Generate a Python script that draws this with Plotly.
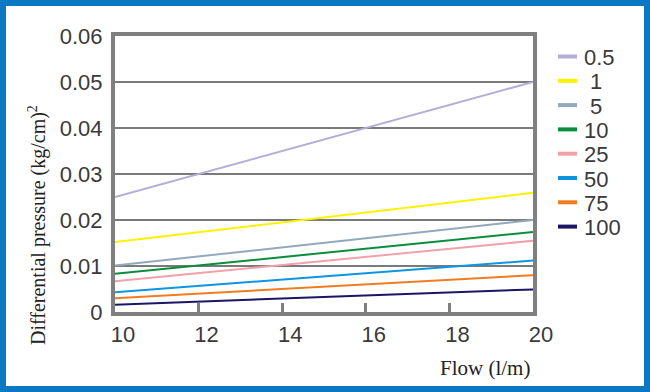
import plotly.graph_objects as go

# ---- data ----
flow = [10, 20]
series_names = ["0.5", "1", "5", "10", "25", "50", "75", "100"]
dp_0_5 = [0.0250, 0.0500]
dp_1 = [0.0152, 0.0259]
dp_5 = [0.0101, 0.0200]
dp_10 = [0.0083, 0.0174]
dp_25 = [0.0067, 0.0155]
dp_50 = [0.0043, 0.0112]
dp_75 = [0.0030, 0.0080]
dp_100 = [0.0016, 0.0049]
series_values = [dp_0_5, dp_1, dp_5, dp_10, dp_25, dp_50, dp_75, dp_100]
series_colors = ["#b6acd8", "#fff200", "#92a9bd", "#0a8d3d", "#f2a1aa",
                 "#0d95df", "#f07c1f", "#1b1566"]
x_ticks = [10, 12, 14, 16, 18, 20]
y_ticks = [0, 0.01, 0.02, 0.03, 0.04, 0.05, 0.06]
y_tick_labels = ["0", "0.01", "0.02", "0.03", "0.04", "0.05", "0.06"]

W, H = 650, 392
ML, MR, MT, MB = 115, 117, 36, 80
PW, PH = W - ML - MR, H - MT - MB


def px_x(p):
    return (p - ML) / PW


def px_y(p):
    return (H - MB - p) / PH


fig = go.Figure()
for name, vals, col in zip(series_names, series_values, series_colors):
    fig.add_trace(go.Scatter(x=flow, y=vals, mode="lines", name=name,
                             showlegend=False,
                             line=dict(color=col, width=2)))

# ---- legend drawn as swatches + labels (compact spacing like the reference) ----
LEG_TOP, LEG_STEP = 56.5, 24.3
SW_X0, SW_X1, TXT_X = 558, 577, 582
legend_shapes, legend_annots = [], []
for i, (name, col) in enumerate(zip(series_names, series_colors)):
    yc = LEG_TOP + i * LEG_STEP
    legend_shapes.append(dict(type="line", xref="paper", yref="paper",
                              x0=px_x(SW_X0), x1=px_x(SW_X1),
                              y0=px_y(yc), y1=px_y(yc),
                              line=dict(color=col, width=4)))
    legend_annots.append(dict(text=name, xref="paper", yref="paper",
                              x=px_x(TXT_X), y=px_y(yc + 1),
                              xanchor="left", yanchor="middle",
                              xshift=6 if len(name) == 1 else 0,
                              showarrow=False,
                              font=dict(size=22, color="#3a3a3a")))

fig.update_layout(
    width=W, height=H,
    margin=dict(l=ML, r=MR, t=MT, b=MB, autoexpand=False),
    paper_bgcolor="white", plot_bgcolor="white",
    font=dict(family="Liberation Sans, Arial, sans-serif", color="#3a3a3a"),
    showlegend=False,
    xaxis=dict(range=[10, 20], tickvals=x_ticks, ticks="inside", ticklen=9,
               tickwidth=3, tickcolor="#7f7f7f", showgrid=False, zeroline=False,
               showline=True, linewidth=4, linecolor="#7f7f7f", mirror=True,
               tickfont=dict(size=22, color="#3a3a3a"),
               ticklabelstandoff=0, ticklabelshift=8, automargin=False),
    yaxis=dict(range=[0, 0.06], tickvals=y_ticks, ticktext=y_tick_labels,
               ticks="", showgrid=True, gridcolor="#7a7a7a", gridwidth=2,
               zeroline=False, showline=True, linewidth=4, linecolor="#7f7f7f",
               mirror=True, tickfont=dict(size=22, color="#3a3a3a"),
               ticklabelstandoff=4, automargin=False),
    annotations=[
        dict(text="Differential pressure (kg/cm)<sup>2</sup>", textangle=-90,
             xref="paper", yref="paper", x=px_x(38), y=px_y(225),
             xanchor="center", yanchor="middle", showarrow=False,
             font=dict(family="Liberation Serif, Times New Roman, serif",
                       size=20, color="#222222")),
        dict(text="Flow (l/m)", xref="paper", yref="paper",
             x=px_x(485), y=px_y(368), xanchor="center", yanchor="middle",
             showarrow=False,
             font=dict(family="Liberation Serif, Times New Roman, serif",
                       size=21, color="#222222")),
    ] + legend_annots,
    shapes=[
        dict(type="rect", xref="paper", yref="paper",
             x0=px_x(3), x1=px_x(W - 3), y0=px_y(H - 3), y1=px_y(3),
             line=dict(color="#0a78c2", width=6), fillcolor="rgba(0,0,0,0)",
             layer="above"),
    ] + legend_shapes,
)

fig.write_html("out.html",
               config={"displayModeBar": False},
               post_script="document.body.style.margin='0px';"
                           "document.body.style.overflow='hidden';")
